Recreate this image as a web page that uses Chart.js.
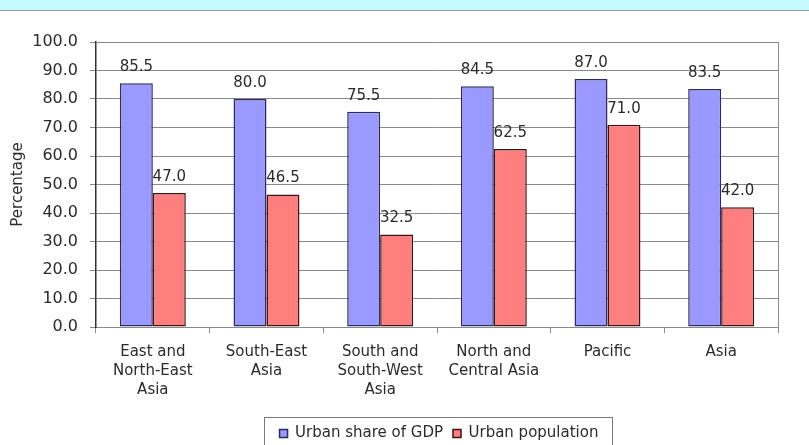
<!DOCTYPE html>
<html lang="en">
<head>
<meta charset="UTF-8" />
<title>Urban share of GDP and population</title>
<script src="https://cdn.jsdelivr.net/npm/chart.js"></script>
<style>
    body { margin: 0; background: #ffffff; width: 809px; height: 445px; overflow: hidden; }
    .strip { height: 10px; background: #c4f9ff; border-bottom: 1px solid #9a9a9a; }
    .wrap { position: relative; width: 809px; height: 434px; }
</style>
</head>
<body>
<div class="strip"></div>
<div class="wrap"><canvas id="chart"></canvas></div>
<script>
    const regions = [
        ['East and', 'North-East', 'Asia'],
        ['South-East', 'Asia'],
        ['South and', 'South-West', 'Asia'],
        ['North and', 'Central Asia'],
        'Pacific',
        'Asia'
    ];
    const gdpShare = [85.5, 80.0, 75.5, 84.5, 87.0, 83.5];
    const popShare = [47.0, 46.5, 32.5, 62.5, 71.0, 42.0];
    const yTicks = [0, 10, 20, 30, 40, 50, 60, 70, 80, 90, 100];

    const font = 'DejaVu Sans';

    // value labels above each bar
    const valueLabels = {
        id: 'valueLabels',
        afterDatasetsDraw(chart) {
            const ctx = chart.ctx;
            ctx.save();
            ctx.font = '15px ' + font;
            ctx.fillStyle = '#2b2b2b';
            ctx.textAlign = 'center';
            ctx.textBaseline = 'middle';
            chart.data.datasets.forEach((ds, i) => {
                chart.getDatasetMeta(i).data.forEach((bar, j) => {
                    ctx.fillText(ds.data[j].toFixed(1), bar.x, bar.y - 16);
                });
            });
            ctx.restore();
        }
    };

    // plot frame, legend centred under the plot, legend box
    const frames = {
        id: 'frames',
        afterLayout(chart) {
            const lg = chart.legend;
            const a = chart.chartArea;
            const dx = (a.left + a.right) / 2 - (lg.left + lg.right) / 2 + 2;
            lg.left += dx;
            lg.right += dx;
            lg.top += 6;
            lg.bottom += 6;
        },
        beforeDatasetsDraw(chart) {
            const a = chart.chartArea;
            const ctx = chart.ctx;
            ctx.save();
            ctx.strokeStyle = '#8a8a8a';
            ctx.lineWidth = 1;
            ctx.beginPath();
            ctx.moveTo(a.right + 0.5, a.top);
            ctx.lineTo(a.right + 0.5, a.bottom + 5);
            ctx.stroke();
            ctx.restore();
        },
        afterDraw(chart) {
            const boxes = chart.legend.legendHitBoxes;
            if (!boxes || !boxes.length) return;
            const left = Math.min(...boxes.map(b => b.left)) - 16;
            const right = Math.max(...boxes.map(b => b.left + b.width)) + 13;
            const top = Math.min(...boxes.map(b => b.top)) - 9;
            const ctx = chart.ctx;
            ctx.save();
            ctx.strokeStyle = '#7a7a7a';
            ctx.lineWidth = 1;
            ctx.strokeRect(Math.round(left) + 0.5, Math.round(top) + 0.5, Math.round(right - left), 40);
            ctx.restore();
        }
    };

    new Chart(document.getElementById('chart').getContext('2d'), {
        type: 'bar',
        data: {
            labels: regions,
            datasets: [{
                label: 'Urban share of GDP',
                data: gdpShare,
                backgroundColor: '#9999ff',
                borderColor: '#2c2c5c',
                borderWidth: 1.5,
                borderSkipped: false,
                categoryPercentage: 0.58,
                barPercentage: 1
            }, {
                label: 'Urban population',
                data: popShare,
                backgroundColor: '#ff7f7f',
                borderColor: '#3d1414',
                borderWidth: 1.5,
                borderSkipped: false,
                categoryPercentage: 0.58,
                barPercentage: 1
            }]
        },
        options: {
            responsive: true,
            maintainAspectRatio: false,
            animation: false,
            layout: { padding: { top: 31, right: 31, left: 0, bottom: 0 } },
            scales: {
                x: {
                    grid: {
                        offset: true,
                        drawOnChartArea: false,
                        drawTicks: true,
                        tickLength: 6,
                        color: '#8a8a8a'
                    },
                    border: { color: '#8a8a8a', width: 1 },
                    ticks: {
                        color: '#2b2b2b',
                        font: { family: font, size: 15, lineHeight: 1.25 },
                        padding: 10,
                        maxRotation: 0,
                        autoSkip: false
                    },
                    afterFit(scale) { scale.height = 83; }
                },
                y: {
                    min: 0,
                    max: 100,
                    afterBuildTicks(scale) { scale.ticks = yTicks.map(v => ({ value: v })); },
                    grid: { color: '#8a8a8a', tickLength: 6, lineWidth: 1 },
                    border: { color: '#333333', width: 1.5 },
                    ticks: {
                        color: '#2b2b2b',
                        font: { family: font, size: 16 },
                        padding: 12,
                        callback: v => v.toFixed(1)
                    },
                    title: {
                        display: true,
                        text: 'Percentage',
                        color: '#2b2b2b',
                        font: { family: font, size: 15 },
                        padding: { top: 9, bottom: 0 }
                    },
                    afterFit(scale) { scale.width = 96; }
                }
            },
            plugins: {
                legend: {
                    position: 'bottom',
                    labels: {
                        color: '#2b2b2b',
                        font: { family: font, size: 15 },
                        boxWidth: 8,
                        boxHeight: 8,
                        padding: 10
                    }
                },
                tooltip: { enabled: false }
            }
        },
        plugins: [valueLabels, frames]
    });
</script>
</body>
</html>
